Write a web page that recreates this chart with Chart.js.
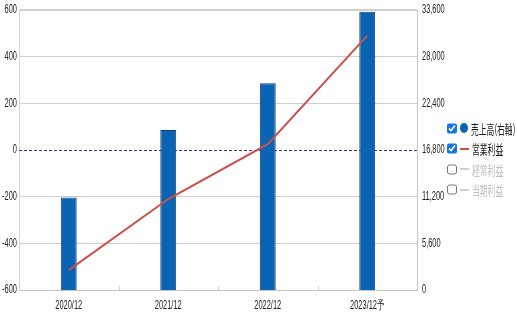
<!DOCTYPE html>
<html>
<head>
<meta charset="utf-8">
<script src="https://cdn.jsdelivr.net/npm/chart.js@4/dist/chart.umd.min.js"></script>
<style>
  html, body { margin: 0; padding: 0; background: #fff; }
  #wrap { position: relative; width: 517px; height: 322px; }
  #legend { position: absolute; left: 447px; top: 118px; font-family: "Noto Sans CJK JP", sans-serif; font-size: 13px; color: #1a1a1a; }
  .row { display: flex; align-items: center; height: 20.5px; white-space: nowrap; }
  .row input { width: 10px; height: 13px; margin: 0 3px 0 0; accent-color: #1673e6; }
  .mark { width: 9px; display: inline-block; margin-right: 3px; }
  .dot { width: 8px; height: 10px; border-radius: 50%; background: #0a64b4; }
  .dash { height: 2px; }
  .txt { display: inline-block; transform: scaleX(0.6); transform-origin: left center; }
  .off { color: #c0c0c0; }
</style>
</head>
<body>
<div id="wrap">
  <canvas id="chart" width="517" height="322"></canvas>
  <div id="legend">
    <div class="row"><input type="checkbox" checked><span class="mark dot"></span><span class="txt">売上高(右軸)</span></div>
    <div class="row"><input type="checkbox" checked><span class="mark dash" style="background:#c9504d"></span><span class="txt">営業利益</span></div>
    <div class="row off"><input type="checkbox"><span class="mark dash" style="background:#d0d0d0"></span><span class="txt">経常利益</span></div>
    <div class="row off"><input type="checkbox"><span class="mark dash" style="background:#d0d0d0"></span><span class="txt">当期利益</span></div>
  </div>
</div>
<script>
// fiscal periods and values
const periods = ['2020/12', '2021/12', '2022/12', '2023/12予'];
const sales = [11100, 19200, 24800, 33400];        // 売上高, right axis
const operatingProfit = [-515, -210, 25, 490];    // 営業利益, left axis

// the source renders its labels horizontally squeezed, so tick text is
// drawn here with a scaleX instead of by the scales themselves
const SQUEEZE = 0.62;
const labelFont = '12px "Liberation Sans", Arial, sans-serif';

function putText(ctx, text, x, y, align) {
    ctx.save();
    ctx.translate(x, y);
    ctx.scale(SQUEEZE, 1);
    ctx.textAlign = align;
    ctx.textBaseline = 'middle';
    ctx.fillText(text, 0, 0);
    ctx.restore();
}

const axisText = {
    id: 'axisText',
    afterDraw(chart) {
        const { ctx, chartArea, scales } = chart;
        ctx.save();
        ctx.font = labelFont;
        ctx.fillStyle = '#222';
        scales.y.ticks.forEach((t, i) =>
            putText(ctx, String(t.value), scales.y.right - 2, scales.y.getPixelForTick(i), 'right'));
        scales.y1.ticks.forEach((t, i) =>
            putText(ctx, t.value.toLocaleString('en-US'), scales.y1.left + 5, scales.y1.getPixelForTick(i), 'left'));
        chart.data.labels.forEach((l, i) =>
            putText(ctx, l, scales.x.getPixelForTick(i), chartArea.bottom + 16, 'center'));
        // short marks between categories, sitting on the baseline
        ctx.strokeStyle = '#d0d0d0';
        ctx.lineWidth = 1;
        for (let i = 0; i < chart.data.labels.length - 1; i++) {
            const x = Math.round((scales.x.getPixelForTick(i) + scales.x.getPixelForTick(i + 1)) / 2) + 0.5;
            ctx.beginPath();
            ctx.moveTo(x, chartArea.bottom - 4);
            ctx.lineTo(x, chartArea.bottom);
            ctx.stroke();
        }
        ctx.restore();
    }
};

// dashed purple line at zero on the left axis
const zeroLine = {
    id: 'zeroLine',
    beforeDatasetsDraw(chart) {
        const { ctx, chartArea } = chart;
        const y = Math.round(chart.scales.y.getPixelForValue(0)) + 0.5;
        ctx.save();
        ctx.strokeStyle = '#42307e';
        ctx.lineWidth = 1;
        ctx.setLineDash([3, 2]);
        ctx.beginPath();
        ctx.moveTo(chartArea.left, y);
        ctx.lineTo(chartArea.right, y);
        ctx.stroke();
        ctx.restore();
    }
};

new Chart(document.getElementById('chart'), {
    type: 'bar',
    data: {
        labels: periods,
        datasets: [
            {
                type: 'line',
                label: '営業利益',
                data: operatingProfit,
                yAxisID: 'y',
                borderColor: '#c9504d',
                borderWidth: 2,
                pointRadius: 0,
                tension: 0,
                order: 0
            },
            {
                label: '売上高(右軸)',
                data: sales,
                yAxisID: 'y1',
                backgroundColor: '#0a64b4',
                borderColor: '#173d66',
                borderWidth: 1,
                barPercentage: 0.16,
                categoryPercentage: 1,
                order: 1
            }
        ]
    },
    options: {
        responsive: false,
        animation: false,
        layout: { padding: { top: 10 } },
        plugins: { legend: { display: false }, tooltip: { enabled: false } },
        scales: {
            x: {
                grid: { display: false },
                border: { color: '#c4c4c4' },
                ticks: { display: false },
                afterFit(s) { s.height = 32; }
            },
            y: {
                position: 'left',
                min: -600, max: 600,
                ticks: { stepSize: 200, display: false },
                grid: {
                    drawTicks: false,
                    color: c => c.tick && c.tick.value === 0 ? 'rgba(0,0,0,0)' : '#cfcfcf',
                    lineWidth: c => c.tick && c.tick.value === 600 ? 2 : 1
                },
                border: { color: '#d6d6d6' },
                afterFit(s) { s.width = 19; }
            },
            y1: {
                position: 'right',
                min: 0, max: 33600,
                ticks: { stepSize: 5600, display: false },
                grid: { display: false, drawTicks: false },
                border: { color: '#c8c8c8' },
                afterFit(s) { s.width = 100; }
            }
        }
    },
    plugins: [zeroLine, axisText]
});
</script>
</body>
</html>
